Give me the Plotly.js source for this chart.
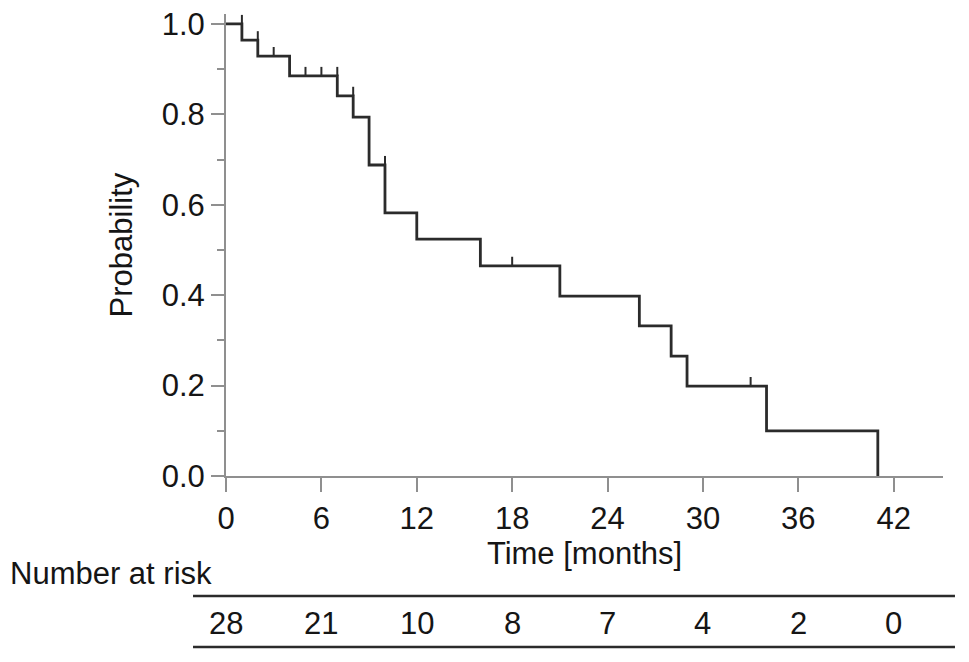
<!DOCTYPE html>
<html>
<head>
<meta charset="utf-8">
<script src="https://cdn.plot.ly/plotly-3.0.1.min.js"></script>
<style>html,body{margin:0;padding:0;background:#fff;}#chart{width:969px;height:662px;}</style>
</head>
<body>
<div id="chart"></div>
<script>
// Kaplan-Meier step curve
var stepTimes = [0, 1, 2, 4, 7, 8, 9, 10, 12, 16, 21, 26, 28, 29, 34, 41];
var stepSurv  = [1.0, 0.964, 0.929, 0.885, 0.841, 0.794, 0.688, 0.582, 0.524, 0.465, 0.398, 0.332, 0.265, 0.199, 0.100, 0.0];

// Censored observations
var censorTimes = [1, 2, 3, 5, 6, 7, 8, 10, 18, 33];
var censorSurv  = [1.0, 0.964, 0.929, 0.885, 0.885, 0.885, 0.841, 0.688, 0.465, 0.199];

// Axis ticks
var xTicks = [0, 6, 12, 18, 24, 30, 36, 42];
var yTicks = [0, 0.2, 0.4, 0.6, 0.8, 1.0];
var yMinorTicks = [0.1, 0.3, 0.5, 0.7, 0.9];

// Number at risk table
var riskTimes  = [0, 6, 12, 18, 24, 30, 36, 42];
var riskCounts = [28, 21, 10, 8, 7, 4, 2, 0];

var FONT = 'Liberation Sans, Arial, Helvetica, sans-serif';
var FS = 31;
var AX = '#8f8f8f';
var INK = '#2b2b2b';
var TXT = '#151515';

var traces = [
  {
    x: stepTimes, y: stepSurv, type: 'scatter', mode: 'lines',
    line: {shape: 'hv', color: INK, width: 2.8},
    hoverinfo: 'skip', cliponaxis: false
  },
  {
    x: censorTimes, y: censorSurv, type: 'scatter', mode: 'markers',
    marker: {size: 1, color: 'rgba(0,0,0,0)'},
    error_y: {type: 'constant', value: 0.02, valueminus: 0, symmetric: false,
              width: 0, thickness: 2, color: INK},
    hoverinfo: 'skip', cliponaxis: false
  }
];

var annotations = riskTimes.map(function (t, i) {
  return {x: t, xref: 'x', y: -0.3203, yref: 'paper', text: String(riskCounts[i]),
          showarrow: false, xanchor: 'center', yanchor: 'middle',
          font: {family: FONT, size: FS, color: TXT}};
});
annotations.push({x: -0.304, xref: 'paper', y: -0.21, yref: 'paper', text: 'Number at risk',
  showarrow: false, xanchor: 'left', yanchor: 'middle',
  font: {family: FONT, size: FS, color: TXT}});

var layout = {
  width: 969, height: 662,
  margin: {l: 226, r: 26, t: 14, b: 186},
  paper_bgcolor: '#fff', plot_bgcolor: '#fff',
  showlegend: false,
  font: {family: FONT, size: FS, color: TXT},
  xaxis: {
    range: [0, 45.1], tickvals: xTicks, ticktext: xTicks.map(String),
    ticks: 'outside', ticklen: 14, tickwidth: 2, tickcolor: AX,
    showline: true, linecolor: AX, linewidth: 2,
    showgrid: false, zeroline: false,
    tickfont: {family: FONT, size: FS, color: TXT},
    title: {text: 'Time [months]', font: {family: FONT, size: FS, color: TXT}, standoff: 2}
  },
  yaxis: {
    range: [0, 1.022], tickvals: yTicks, ticktext: yTicks.map(function (v) { return v.toFixed(1); }),
    ticks: 'outside', ticklen: 13, tickwidth: 2, tickcolor: AX,
    minor: {tickvals: yMinorTicks, ticks: 'outside', ticklen: 7, tickwidth: 2, tickcolor: AX},
    showline: true, linecolor: AX, linewidth: 2,
    showgrid: false, zeroline: false,
    tickfont: {family: FONT, size: FS, color: TXT},
    title: {text: 'Probability', font: {family: FONT, size: FS, color: TXT}, standoff: 20}
  },
  shapes: [
    {type: 'line', xref: 'paper', yref: 'paper', x0: -0.046, x1: 1.0167, y0: -0.2597, y1: -0.2597,
     line: {color: INK, width: 2.5}},
    {type: 'line', xref: 'paper', yref: 'paper', x0: -0.046, x1: 1.0167, y0: -0.3701, y1: -0.3701,
     line: {color: INK, width: 2.5}}
  ],
  annotations: annotations
};

Plotly.newPlot('chart', traces, layout, {displayModeBar: false, staticPlot: true});
</script>
</body>
</html>
